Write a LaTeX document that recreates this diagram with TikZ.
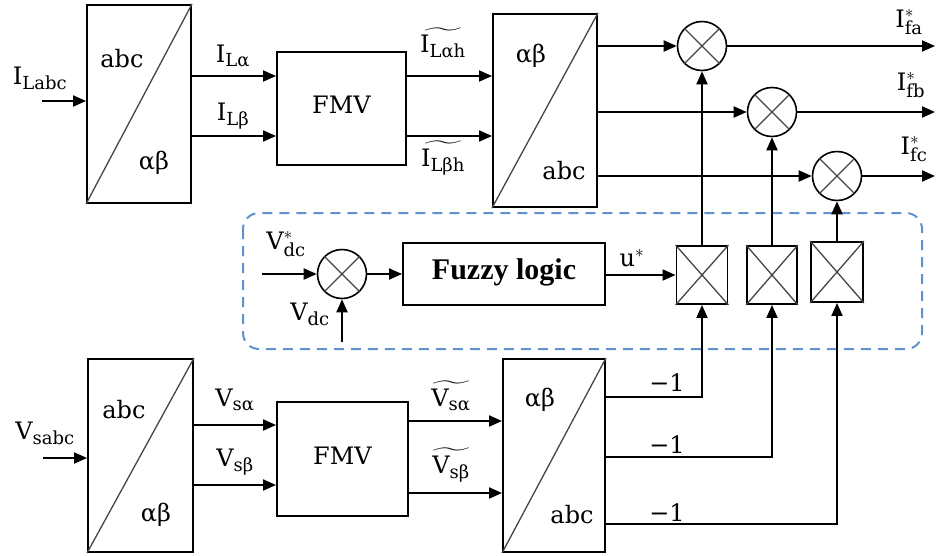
\documentclass[tikz,border=0pt]{standalone}
\usepackage{amsmath}
\usepackage{fontspec}
\setmainfont{DejaVu Serif}
\newfontfamily\fzfont{Liberation Serif}
\DeclareMathSizes{24}{24}{18}{14}
\usetikzlibrary{arrows.meta,shapes.geometric}
\definecolor{dashblue}{RGB}{96,146,208}
\definecolor{crossgray}{RGB}{70,70,70}
\tikzset{
  ln/.style={line width=1.9pt, draw=black},
  arr/.style={ln, -{Triangle[length=13pt,width=11pt]}},
  blk/.style={draw=black, line width=1.9pt, inner sep=0pt, fill=white},
  diag/.style={draw=crossgray, line width=1.3pt},
  summ/.style={circle, draw=black, line width=1.6pt, minimum size=49pt, inner sep=0pt, fill=white},
  txt/.style={font=\fontsize{24}{28}\selectfont, inner sep=0pt},
  lab/.style={font=\fontsize{24}{28}\selectfont, inner sep=0pt},
}
\begin{document}
\begin{tikzpicture}[x=1pt,y=-1pt]
\useasboundingbox (0,0) rectangle (936,555);

% dashed control region
\draw[dashblue, line width=2pt, dash pattern=on 10pt off 7pt, rounded corners=16pt] (243,213) rectangle (922,349);

% ---------- top row ----------
\node[blk, minimum width=104pt, minimum height=198pt] (A1) at (139,104) {};
\draw[diag] (A1.south west) -- (A1.north east);
\node[txt] (A1t) at (122,59) {abc};
\node[txt] (A1b) at (154,163) {αβ};

\node[blk, minimum width=129pt, minimum height=113pt] (F1) at (341.5,108.5) {};
\node[txt] (F1t) at (341.5,105) {FMV};

\node[blk, minimum width=104pt, minimum height=193pt] (A2) at (545,110.5) {};
\draw[diag] (A2.south west) -- (A2.north east);
\node[txt] (A2t) at (531,56) {αβ};
\node[txt] (A2b) at (564,171) {abc};

\node[summ] (C1) at (702,46) {};
\node[summ] (C2) at (772,112) {};
\node[summ] (C3) at (837,176) {};
\foreach \c in {C1,C2,C3}{
  \draw[diag] (\c.north east) -- (\c.south west);
  \draw[diag] (\c.north west) -- (\c.south east);
}

\coordinate (inA) at (42,101);
\draw[arr] (inA) -- (inA -| A1.west);
\node[lab] (lIL) at (40,78) {$\text{I}_{\text{Labc}}$};

\draw[arr] (A1.east |- 0,76) -- (F1.west |- 0,76);
\draw[arr] (A1.east |- 0,136) -- (F1.west |- 0,136);
\node[lab] (lILa) at (233,56) {$\text{I}_{\text{Lα}}$};
\node[lab] (lILb) at (233,116) {$\text{I}_{\text{Lβ}}$};

\draw[arr] (F1.east |- 0,76) -- (A2.west |- 0,76);
\draw[arr] (F1.east |- 0,136) -- (A2.west |- 0,136);
\node[lab] (lILah) at (443,43) {$\widetilde{\text{I}_{\text{Lαh}}}$};
\node[lab] (lILbh) at (443,158) {$\widetilde{\text{I}_{\text{Lβh}}}$};

\draw[arr] (A2.east |- C1) -- (C1.west);
\draw[arr] (A2.east |- C2) -- (C2.west);
\draw[arr] (A2.east |- C3) -- (C3.west);

\coordinate (o1) at (935,46);
\coordinate (o2) at (935,112);
\coordinate (o3) at (935,176);
\draw[arr] (C1.east) -- (o1);
\draw[arr] (C2.east) -- (o2);
\draw[arr] (C3.east) -- (o3);
\node[lab] (lIfa) at (909,22) {$\text{I}^{*}_{\text{fa}}$};
\node[lab] (lIfb) at (911,85) {$\text{I}^{*}_{\text{fb}}$};
\node[lab] (lIfc) at (914,149) {$\text{I}^{*}_{\text{fc}}$};

% ---------- middle row ----------
\node[summ] (S) at (342,274) {};
\draw[diag] (S.north east) -- (S.south west);
\draw[diag] (S.north west) -- (S.south east);

\node[blk, minimum width=202pt, minimum height=62pt] (FZ) at (504,274) {};
\node[inner sep=0pt] (FZt) at (504,272) {\fzfont\bfseries\fontsize{30}{34}\selectfont Fuzzy logic};

\node[blk, minimum width=51pt, minimum height=58pt] (M1) at (702,275) {};
\node[blk, minimum width=50pt, minimum height=58pt] (M2) at (772,275) {};
\node[blk, minimum width=52pt, minimum height=60pt] (M3) at (837,272) {};
\foreach \m in {M1,M2,M3}{
  \draw[diag] (\m.north east) -- (\m.south west);
  \draw[diag] (\m.north west) -- (\m.south east);
}

\coordinate (vref) at (262,274);
\coordinate (vdc) at (342,342);
\draw[arr] (vref) -- (S.west);
\draw[arr] (vdc) -- (S.south);
\node[lab] (lVr) at (286,244) {$\text{V}^{*}_{\text{dc}}$};
\node[lab] (lVd) at (310,314) {$\text{V}_{\text{dc}}$};

\draw[arr] (S.east) -- (S.east -| FZ.west);
\draw[arr] (FZ.east |- M1.west) -- (M1.west);
\node[lab] (lu) at (632,258) {$\text{u}^{*}$};

\draw[arr] (M1.north) -- (C1.south);
\draw[arr] (M2.north) -- (C2.south);
\draw[arr] (M3.north) -- (C3.south);

% ---------- bottom row ----------
\node[blk, minimum width=105pt, minimum height=193pt] (B1) at (140.5,455.5) {};
\draw[diag] (B1.south west) -- (B1.north east);
\node[txt] (B1t) at (124,410) {abc};
\node[txt] (B1b) at (156,515) {αβ};

\node[blk, minimum width=131pt, minimum height=114pt] (F2) at (342.5,459) {};
\node[txt] (F2t) at (342.5,456) {FMV};

\node[blk, minimum width=102pt, minimum height=193pt] (B2) at (554,455.5) {};
\draw[diag] (B2.south west) -- (B2.north east);
\node[txt] (B2t) at (540,400) {αβ};
\node[txt] (B2b) at (572,515) {abc};

\coordinate (inB) at (43,458);
\draw[arr] (inB) -- (inB -| B1.west);
\node[lab] (lVs) at (45,433) {$\text{V}_{\text{sabc}}$};

\draw[arr] (B1.east |- 0,425) -- (F2.west |- 0,425);
\draw[arr] (B1.east |- 0,485) -- (F2.west |- 0,485);
\node[lab] (lVsa) at (235,400) {$\text{V}_{\text{sα}}$};
\node[lab] (lVsb) at (235,462) {$\text{V}_{\text{sβ}}$};

\draw[arr] (F2.east |- 0,421) -- (B2.west |- 0,421);
\draw[arr] (F2.east |- 0,493) -- (B2.west |- 0,493);
\node[lab] (lVsah) at (451,396) {$\widetilde{\text{V}_{\text{sα}}}$};
\node[lab] (lVsbh) at (451,465) {$\widetilde{\text{V}_{\text{sβ}}}$};

\draw[arr] (B2.east |- 0,397) -| (M1.south);
\draw[arr] (B2.east |- 0,457) -| (M2.south);
\draw[arr] (B2.east |- 0,524) -| (M3.south);
\node[lab] (m1) at (667,383) {−1};
\node[lab] (m2) at (667,445) {−1};
\node[lab] (m3) at (667,513) {−1};
\end{tikzpicture}
\end{document}
